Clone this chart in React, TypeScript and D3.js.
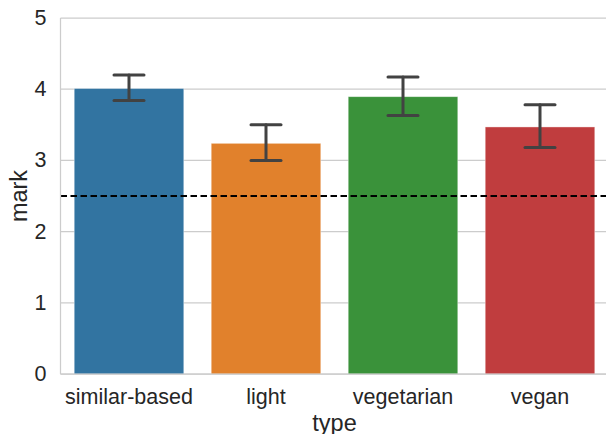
import React from 'react'
import * as d3 from 'd3'

const categories = ['similar-based', 'light', 'vegetarian', 'vegan']
const means = [4.01, 3.24, 3.895, 3.47]
const ciLow = [3.84, 3.0, 3.63, 3.18]
const ciHigh = [4.2, 3.5, 4.17, 3.78]
const colors = ['#3274a1', '#e1812c', '#3a923a', '#c03d3e']
const yTicks = [0, 1, 2, 3, 4, 5]
const threshold = 2.5

const W = 606
const H = 434
const left = 60.5
const right = 608.5
const top = 18
const bottom = 374

export default function App() {
  const x = d3.scaleBand().domain(categories).range([left, right]).paddingInner(0.2).paddingOuter(0.1)
  const y = d3.scaleLinear().domain([0, 5]).range([bottom, top])
  const font = '"Liberation Sans", Arial, sans-serif'
  const capW = 15

  return (
    <svg width={W} height={H} style={{ position: 'absolute', left: 0, top: 0 }} fontFamily={font}>
      <rect width={W} height={H} fill="#fff" />
      {yTicks.map(t => (
        <g key={t}>
          <line x1={left} x2={right} y1={y(t)} y2={y(t)} stroke="#cccccc" strokeWidth={1.25} />
          <text x={46.5} y={y(t)} textAnchor="end" dominantBaseline="central" fontSize={21.5} fill="#262626">
            {t}
          </text>
        </g>
      ))}
      {categories.map((c, i) => {
        const cx = x(c)! + x.bandwidth() / 2
        return (
          <g key={c}>
            <rect
              x={x(c)}
              y={y(means[i])}
              width={x.bandwidth()}
              height={bottom - y(means[i])}
              fill={colors[i]}
              stroke="#fff"
              strokeOpacity={0.5}
              strokeWidth={0.8}
            />
            <text x={cx} y={403.5} textAnchor="middle" fontSize={21.5} fill="#262626">
              {c}
            </text>
          </g>
        )
      })}
      <line
        x1={left}
        x2={right}
        y1={y(threshold)}
        y2={y(threshold)}
        stroke="#000"
        strokeWidth={1.8}
        strokeDasharray="6.5,3.5"
      />
      {categories.map((c, i) => {
        const cx = x(c)! + x.bandwidth() / 2
        return (
          <g key={c} stroke="#424242" strokeWidth={3} strokeLinecap="round">
            <line x1={cx} x2={cx} y1={y(ciLow[i])} y2={y(ciHigh[i])} />
            <line x1={cx - capW} x2={cx + capW} y1={y(ciLow[i])} y2={y(ciLow[i])} />
            <line x1={cx - capW} x2={cx + capW} y1={y(ciHigh[i])} y2={y(ciHigh[i])} />
          </g>
        )
      })}
      <line x1={left} x2={left} y1={top} y2={bottom} stroke="#cccccc" strokeWidth={1.25} />
      <line x1={left} x2={right} y1={bottom} y2={bottom} stroke="#cccccc" strokeWidth={1.25} />
      <text x={(left + right) / 2} y={430.5} textAnchor="middle" fontSize={23.5} fill="#262626">
        type
      </text>
      <text
        transform={`translate(26.5,${(top + bottom) / 2}) rotate(-90)`}
        textAnchor="middle"
        fontSize={23.5}
        fill="#262626"
      >
        mark
      </text>
    </svg>
  )
}
